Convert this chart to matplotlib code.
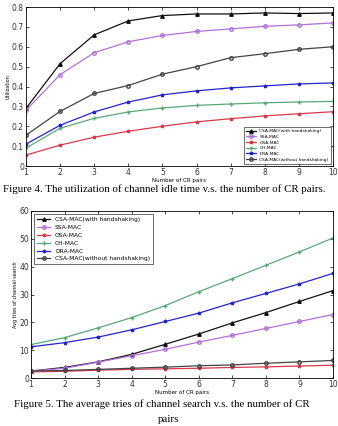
import matplotlib
matplotlib.use("Agg")
import matplotlib.pyplot as plt

# number of CR pairs
pairs = [1, 2, 3, 4, 5, 6, 7, 8, 9, 10]

series_names = ["CSA-MAC(with handshaking)", "SSA-MAC", "OSA-MAC",
                "CH-MAC", "DRA-MAC", "CSA-MAC(without handshaking)"]

# Figure 4: utilization of channel idle time
util_csa_hs = [0.29, 0.515, 0.66, 0.73, 0.757, 0.765, 0.765, 0.77, 0.767, 0.77]
util_ssa = [0.28, 0.46, 0.57, 0.625, 0.657, 0.677, 0.69, 0.703, 0.71, 0.72]
util_osa = [0.055, 0.105, 0.145, 0.175, 0.2, 0.222, 0.238, 0.252, 0.263, 0.273]
util_ch = [0.09, 0.19, 0.24, 0.272, 0.292, 0.305, 0.312, 0.318, 0.322, 0.325]
util_dra = [0.11, 0.205, 0.272, 0.322, 0.358, 0.378, 0.393, 0.403, 0.413, 0.418]
util_csa_nohs = [0.155, 0.275, 0.365, 0.405, 0.462, 0.5, 0.545, 0.565, 0.587, 0.6]

# Figure 5: average tries of channel search
tries_csa_hs = [2.5, 3.8, 5.8, 8.5, 12.1, 15.8, 19.8, 23.5, 27.5, 31.4]
tries_ssa = [2.5, 3.5, 5.7, 8.0, 10.3, 12.9, 15.3, 17.8, 20.3, 22.8]
tries_osa = [2.2, 2.4, 2.8, 3.1, 3.3, 3.5, 3.8, 4.0, 4.3, 4.6]
tries_ch = [12.0, 14.5, 18.0, 21.7, 26.0, 31.0, 35.7, 40.5, 45.3, 50.3]
tries_dra = [11.2, 12.7, 14.7, 17.3, 20.3, 23.3, 27.0, 30.4, 33.8, 37.6]
tries_csa_nohs = [2.5, 2.7, 3.1, 3.5, 3.9, 4.4, 4.7, 5.3, 5.8, 6.3]

colors = ["#111111", "#b070d8", "#d83a4a", "#5aa87a", "#2424c8", "#444444"]
markers = ["^", "o", "*", "+", "*", "o"]


def draw(ax, values, yticks, ylabel, legend_loc, legend_size, spacing):
    for vals, name, c, m in zip(values, series_names, colors, markers):
        ax.plot(pairs, vals, color=c, marker=m, markersize=2.5,
                markerfacecolor="none" if m == "o" else c,
                linewidth=0.9, label=name)
    ax.set_xlim(1, 10)
    ax.set_ylim(yticks[0], yticks[-1])
    ax.set_xticks(pairs)
    ax.set_yticks(yticks)
    ax.tick_params(direction="in", top=True, right=True, length=2,
                   width=0.5, labelsize=5.5, pad=1.5, labelcolor="#333333")
    for s in ax.spines.values():
        s.set_linewidth(0.6)
    ax.set_xlabel("Number of CR pairs", fontsize=4, labelpad=0.5)
    ax.set_ylabel(ylabel, fontsize=3.5, labelpad=1)
    leg = ax.legend(loc=legend_loc, fontsize=legend_size, frameon=True,
                    fancybox=False, edgecolor="black", handlelength=2.2,
                    borderpad=0.5, labelspacing=spacing)
    leg.get_frame().set_linewidth(0.5)


fig = plt.figure(figsize=(3.38, 4.26), dpi=100)
ax1 = fig.add_axes([26 / 338, 1 - 166 / 426, 307 / 338, 159 / 426])
ax2 = fig.add_axes([31 / 338, 1 - 378 / 426, 302 / 338, 167 / 426])

draw(ax1, [util_csa_hs, util_ssa, util_osa, util_ch, util_dra, util_csa_nohs],
     [0, 0.1, 0.2, 0.3, 0.4, 0.5, 0.6, 0.7, 0.8], "Utilization",
     "lower right", 3.2, 0.35)
ax1.set_yticklabels(["0", "0.1", "0.2", "0.3", "0.4", "0.5", "0.6", "0.7", "0.8"])
draw(ax2, [tries_csa_hs, tries_ssa, tries_osa, tries_ch, tries_dra, tries_csa_nohs],
     [0, 10, 20, 30, 40, 50, 60], "Avg tries of channel search",
     "upper left", 4.3, 0.45)

cap = dict(family="Liberation Serif", fontsize=7.8, ha="left")
fig.text(3 / 338, 1 - 192 / 426, "Figure 4. The utilization of channel idle time v.s. the number of CR pairs.", **cap)
fig.text(14 / 338, 1 - 407 / 426, "Figure 5. The average tries of channel search v.s. the number of CR", **cap)
fig.text(0.5, 1 - 422 / 426, "pairs", family="Liberation Serif", fontsize=7.8, ha="center")

fig.savefig("out.png", dpi=100)
